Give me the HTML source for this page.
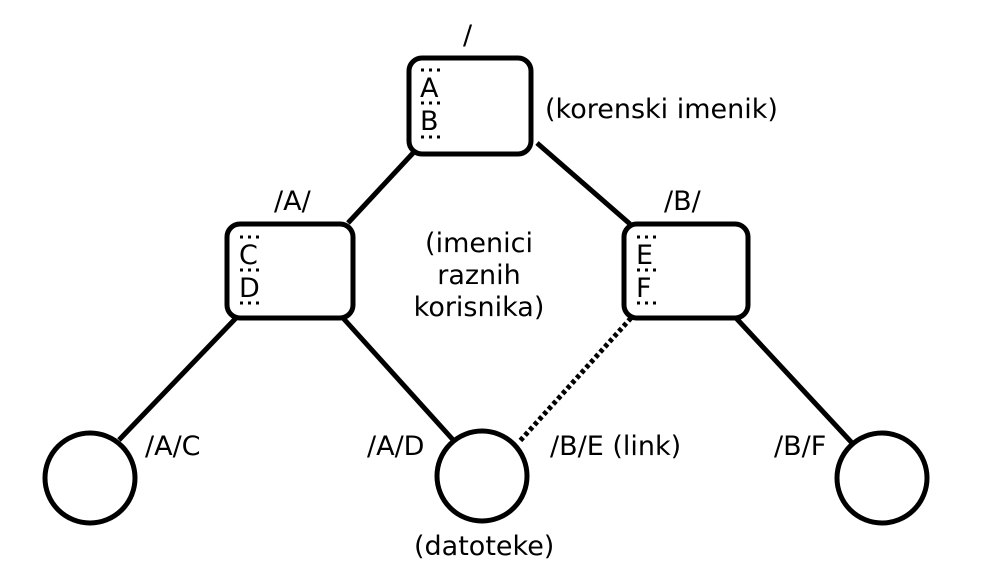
<!DOCTYPE html>
<html><head><meta charset="utf-8"><style>
body{margin:0;background:#fff}
svg text{font-family:"DejaVu Sans","Liberation Sans",sans-serif;font-size:27px;fill:#000}
</style></head><body>
<svg width="987" height="564" viewBox="0 0 987 564" xmlns="http://www.w3.org/2000/svg">
<g stroke="#000" stroke-width="5" fill="none">
<line x1="414" y1="152" x2="348" y2="223"/>
<line x1="537" y1="143" x2="630" y2="224"/>
<line x1="236" y1="318" x2="119" y2="440"/>
<line x1="343" y1="318" x2="455" y2="442"/>
<line x1="631" y1="318" x2="519" y2="442" stroke-dasharray="4 3"/>
<line x1="736" y1="318" x2="853" y2="444"/>
<rect x="409" y="58" width="122" height="96" rx="13" fill="#fff"/>
<rect x="227" y="224" width="126" height="94" rx="13" fill="#fff"/>
<rect x="624" y="224" width="124" height="94" rx="13" fill="#fff"/>
<circle cx="90" cy="478" r="45" fill="#fff"/>
<circle cx="482" cy="476" r="45" fill="#fff"/>
<circle cx="882" cy="478" r="45" fill="#fff"/>
</g>
<g stroke="#000" stroke-width="3" stroke-dasharray="3 5">
<line x1="421" y1="70" x2="445" y2="70"/><line x1="421" y1="103" x2="445" y2="103"/><line x1="421" y1="137" x2="445" y2="137"/>
<line x1="240" y1="237" x2="264" y2="237"/><line x1="240" y1="270" x2="264" y2="270"/><line x1="240" y1="303" x2="264" y2="303"/>
<line x1="637" y1="237" x2="661" y2="237"/><line x1="637" y1="270" x2="661" y2="270"/><line x1="637" y1="303" x2="661" y2="303"/>
</g>
<text x="420" y="97">A</text><text x="420" y="130">B</text>
<text x="239" y="264">C</text><text x="239" y="297">D</text>
<text x="636" y="264">E</text><text x="636" y="297">F</text>
<text x="463" y="44">/</text>
<text x="545" y="118">(korenski imenik)</text>
<text x="274" y="210">/A/</text>
<text x="664" y="210">/B/</text>
<text x="479" y="252" text-anchor="middle">(imenici</text>
<text x="479" y="284" text-anchor="middle">raznih</text>
<text x="479" y="316" text-anchor="middle">korisnika)</text>
<text x="145" y="455">/A/C</text>
<text x="367" y="455">/A/D</text>
<text x="550" y="455">/B/E (link)</text>
<text x="774" y="455">/B/F</text>
<text x="414" y="555">(datoteke)</text>
</svg>
</body></html>
